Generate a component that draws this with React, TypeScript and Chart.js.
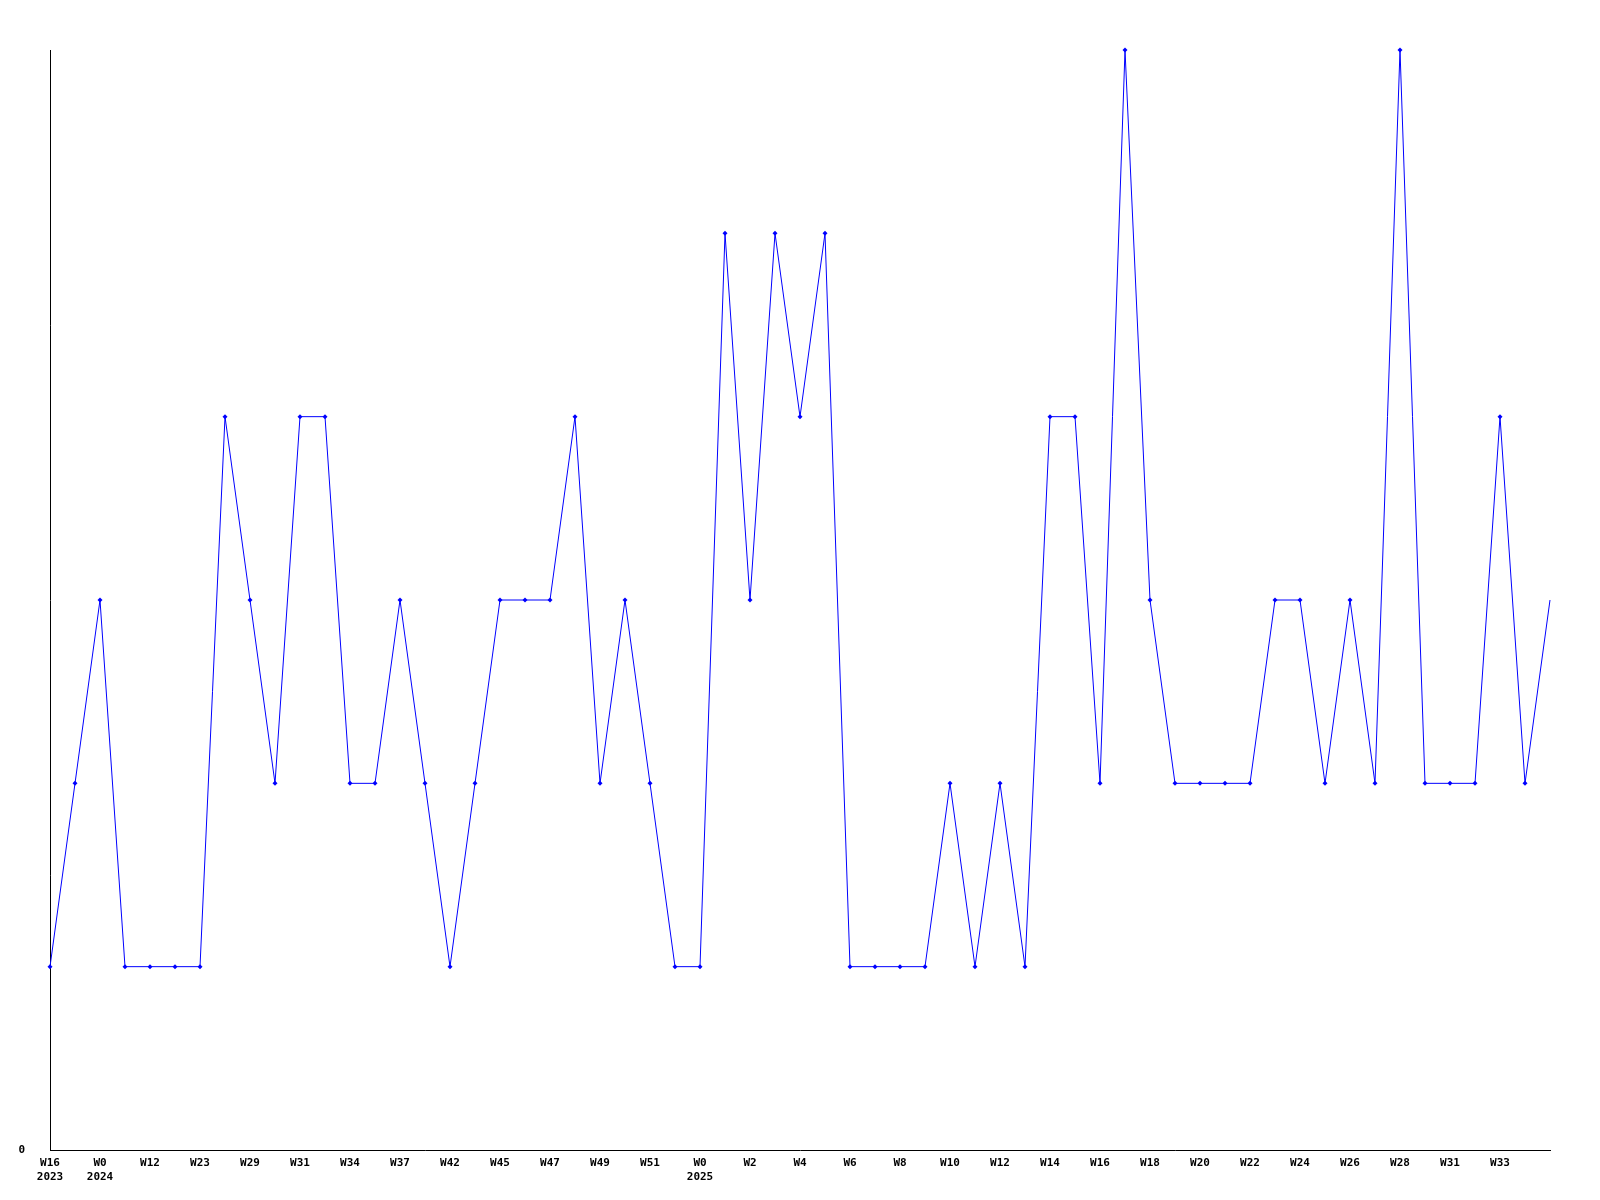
import React, { useEffect, useRef } from "react";
import { Chart, registerables } from "chart.js";

Chart.register(...registerables);

const weeks = [
  "W16", "W52", "W0", "W5", "W12", "W17", "W23", "W26", "W29", "W30",
  "W31", "W33", "W34", "W36", "W37", "W40", "W42", "W44", "W45", "W46",
  "W47", "W48", "W49", "W50", "W51", "W52", "W0", "W1", "W2", "W3",
  "W4", "W5", "W6", "W7", "W8", "W9", "W10", "W11", "W12", "W13",
  "W14", "W15", "W16", "W17", "W18", "W19", "W20", "W21", "W22", "W23",
  "W24", "W25", "W26", "W27", "W28", "W30", "W31", "W32", "W33", "W34",
  "W35",
];

const yearIndex = [0, 2, 26];
const yearText = ["2023", "2024", "2025"];

const values = [
  1, 2, 3, 1, 1, 1, 1, 4, 3, 2,
  4, 4, 2, 2, 3, 2, 1, 2, 3, 3,
  3, 4, 2, 3, 2, 1, 1, 5, 3, 5,
  4, 5, 1, 1, 1, 1, 2, 1, 2, 1,
  4, 4, 2, 6, 3, 2, 2, 2, 2, 3,
  3, 2, 3, 2, 6, 2, 2, 2, 4, 2,
  3,
];

const yTicks = [0];

export default function App() {
  const ref = useRef<HTMLCanvasElement | null>(null);

  useEffect(() => {
    if (!ref.current) return;
    const font = { family: "'DejaVu Sans Mono', monospace", size: 11, weight: "bold" as const };
    const last = values.length - 1;
    const chart = new Chart(ref.current, {
      type: "line",
      data: {
        labels: weeks,
        datasets: [
          {
            data: values,
            borderColor: "#0000ff",
            backgroundColor: "#0000ff",
            borderWidth: 1,
            pointStyle: "rectRot",
            pointRadius: (ctx: any) => (ctx.dataIndex === last ? 0 : 2.5),
            pointBorderWidth: 0,
            tension: 0,
            fill: false,
            clip: false,
          },
        ],
      },
      options: {
        animation: false,
        responsive: false,
        maintainAspectRatio: false,
        layout: { padding: { left: 0, top: 50, right: 50, bottom: 0 } },
        plugins: { legend: { display: false }, tooltip: { enabled: false } },
        scales: {
          x: {
            type: "category",
            offset: false,
            grid: { display: false, drawTicks: false },
            border: { display: true, color: "#000", width: 1 },
            ticks: {
              autoSkip: false,
              maxRotation: 0,
              minRotation: 0,
              padding: 7,
              color: "#000",
              font,
              callback: (v: any, i: number) => {
                if (i % 2 !== 0 || i >= weeks.length - 1) return "";
                const yi = yearIndex.indexOf(i);
                return yi >= 0 ? [weeks[i], yearText[yi]] : weeks[i];
              },
            },
            afterFit: (s: any) => {
              s.height = 50;
            },
          },
          y: {
            min: 0,
            max: 6,
            grid: { display: false, drawTicks: false },
            border: { display: true, color: "#000", width: 1 },
            ticks: { color: "#000", font, padding: 25 },
            afterBuildTicks: (s: any) => {
              s.ticks = yTicks.map((v) => ({ value: v }));
            },
            afterFit: (s: any) => {
              s.width = 50;
            },
          },
        },
      },
    });
    return () => chart.destroy();
  }, []);

  return (
    <div style={{ position: "absolute", left: 0, top: 0, width: 1600, height: 1200, background: "#fff" }}>
      <canvas ref={ref} width={1600} height={1200} style={{ width: 1600, height: 1200 }} />
    </div>
  );
}
